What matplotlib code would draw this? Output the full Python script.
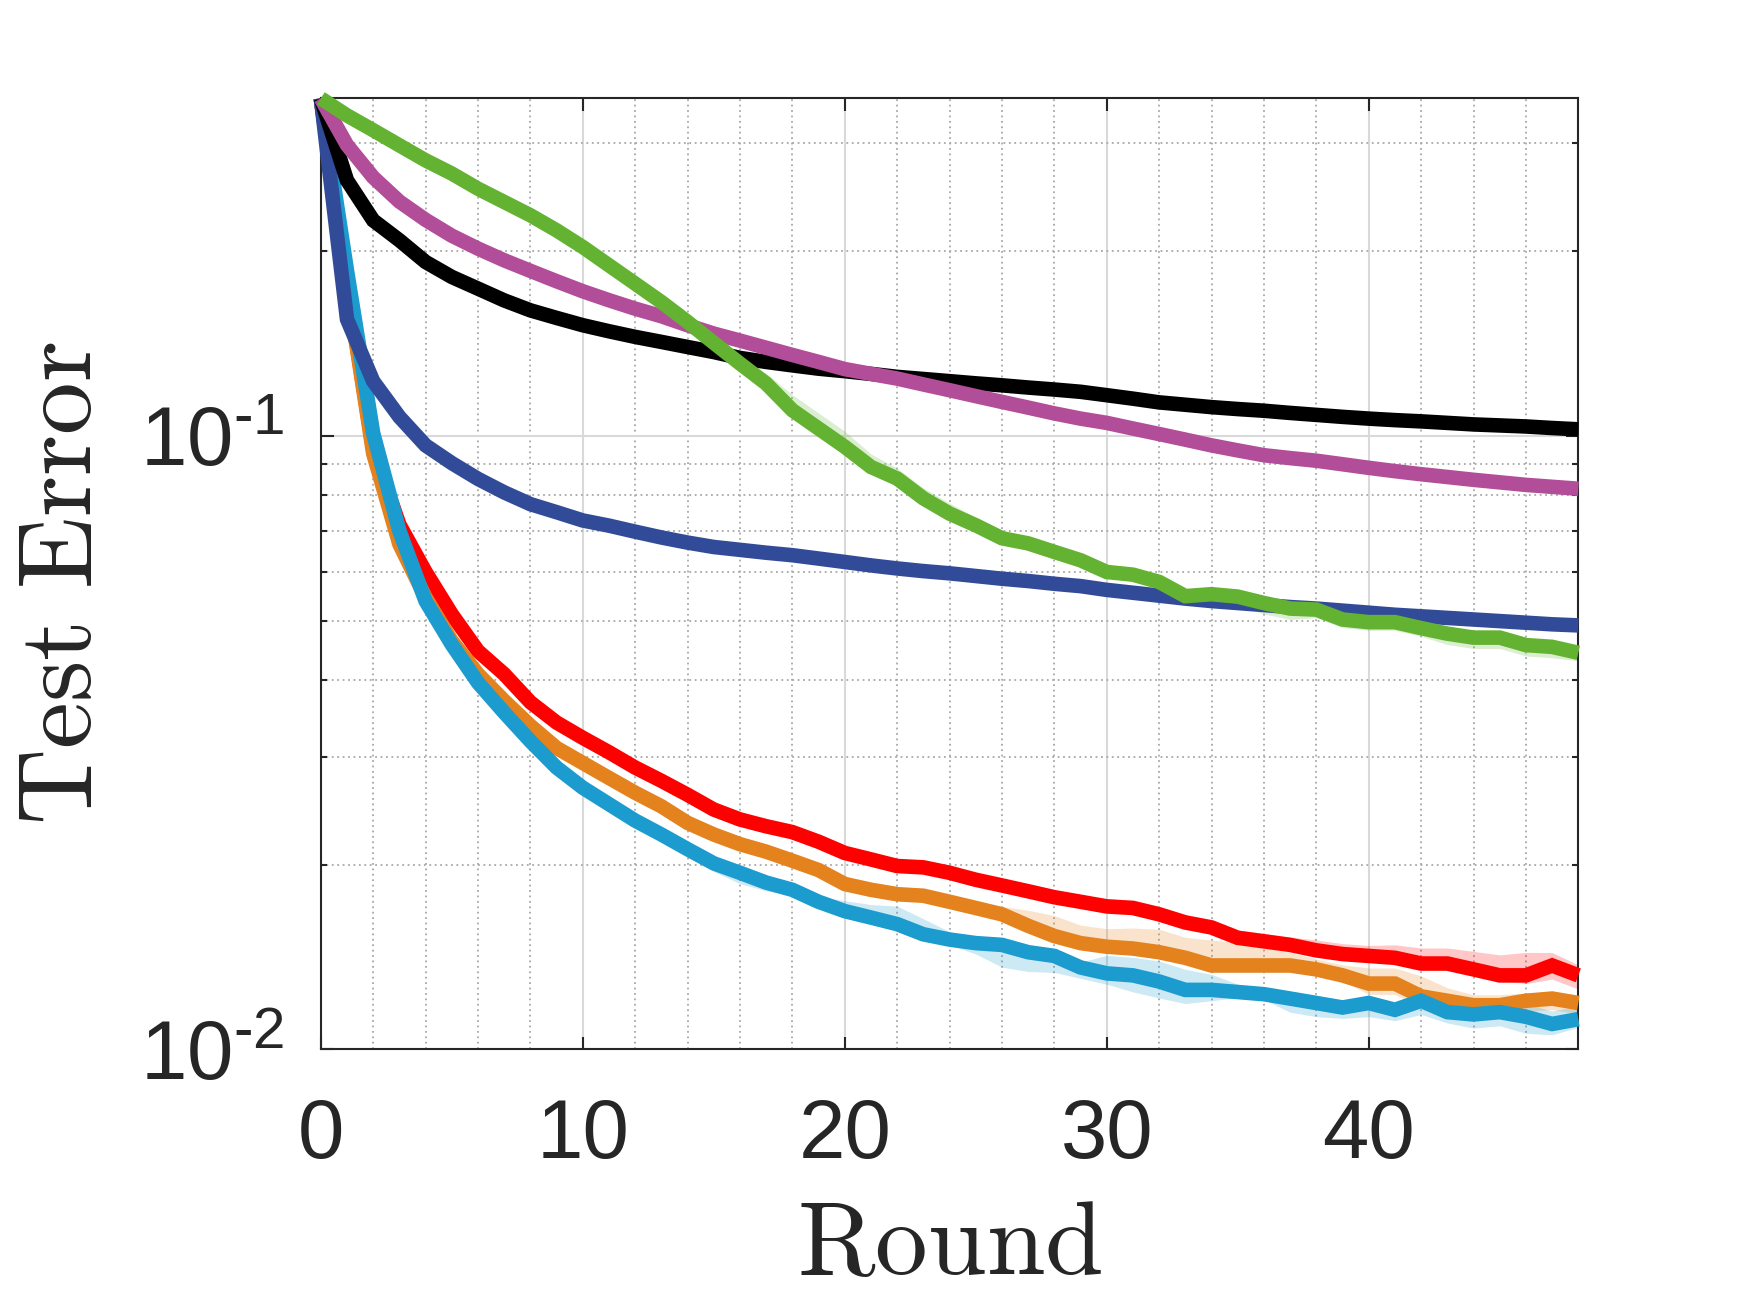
import matplotlib
matplotlib.use("Agg")
import matplotlib.pyplot as plt
from matplotlib.ticker import FixedLocator, NullFormatter, FixedFormatter
import numpy as np

plt.rcParams['mathtext.fontset'] = 'custom'
plt.rcParams['mathtext.rm'] = 'Liberation Sans'
plt.rcParams['mathtext.it'] = 'Liberation Sans:italic'
plt.rcParams['mathtext.bf'] = 'Liberation Sans:bold'

rounds = list(range(49))

# test error per round
err_black = [0.355, 0.261, 0.2246, 0.2084, 0.1921, 0.1816, 0.1738, 0.1663, 0.1602, 0.1557,
             0.1515, 0.1481, 0.1450, 0.1423, 0.1396, 0.1370, 0.1340, 0.1320, 0.1303, 0.1287,
             0.1275, 0.1262, 0.1248, 0.1238, 0.1228, 0.1218, 0.1209, 0.1199, 0.1190, 0.1180,
             0.1165, 0.1150, 0.1134, 0.1124, 0.1114, 0.1106, 0.1099, 0.1090, 0.1082, 0.1074,
             0.1067, 0.1061, 0.1056, 0.1050, 0.1044, 0.1040, 0.1036, 0.1030, 0.1025]
err_magenta = [0.355, 0.298, 0.264, 0.241, 0.225, 0.212, 0.202, 0.1933, 0.1858, 0.1787,
               0.1721, 0.1664, 0.1612, 0.1567, 0.1515, 0.1468, 0.1430, 0.1392, 0.1355, 0.1320,
               0.1285, 0.1262, 0.1240, 0.1213, 0.1187, 0.1161, 0.1136, 0.1112, 0.1088, 0.1067,
               0.1050, 0.1028, 0.1007, 0.0986, 0.0965, 0.0947, 0.0930, 0.0920, 0.0911, 0.0899,
               0.0887, 0.0876, 0.0866, 0.0857, 0.0848, 0.0840, 0.0832, 0.0826, 0.0820]
err_green = [0.355, 0.333, 0.315, 0.2976, 0.2813, 0.2677, 0.2529, 0.2406, 0.2289, 0.2163,
             0.2032, 0.1897, 0.1771, 0.1653, 0.1534, 0.1418, 0.1312, 0.1217, 0.1101, 0.1028,
             0.0960, 0.0890, 0.0852, 0.0791, 0.0747, 0.0715, 0.0681, 0.0668, 0.0647, 0.0627,
             0.0600, 0.0594, 0.0578, 0.0548, 0.0552, 0.0547, 0.0534, 0.0523, 0.0521, 0.0502,
             0.0497, 0.0497, 0.0486, 0.0476, 0.0469, 0.0469, 0.0456, 0.0453, 0.0443]
err_navy = [0.355, 0.155, 0.1228, 0.1074, 0.0965, 0.0903, 0.0851, 0.0809, 0.0774, 0.0751,
            0.0728, 0.0714, 0.0698, 0.0683, 0.0670, 0.0659, 0.0652, 0.0645, 0.0639, 0.0631,
            0.0623, 0.0615, 0.0608, 0.0602, 0.0597, 0.0591, 0.0585, 0.0580, 0.0574, 0.0569,
            0.0561, 0.0555, 0.0549, 0.0543, 0.0538, 0.0534, 0.0530, 0.0526, 0.0523, 0.0519,
            0.0515, 0.0511, 0.0508, 0.0505, 0.0502, 0.0499, 0.0496, 0.0493, 0.0491]
err_red = [0.355, 0.178, 0.095, 0.0717, 0.0600, 0.0512, 0.0446, 0.0409, 0.0368, 0.0341,
           0.0322, 0.0305, 0.0288, 0.0274, 0.0260, 0.0246, 0.0237, 0.0231, 0.0226, 0.0218,
           0.0209, 0.0204, 0.0199, 0.0198, 0.0194, 0.0189, 0.0185, 0.0181, 0.0177, 0.0174,
           0.0171, 0.0170, 0.0166, 0.0161, 0.0158, 0.0152, 0.0150, 0.0148, 0.0145, 0.0143,
           0.0142, 0.0141, 0.0138, 0.0138, 0.0135, 0.0132, 0.0132, 0.0137, 0.0132]
err_orange = [0.355, 0.1765, 0.0936, 0.0666, 0.0545, 0.0463, 0.0409, 0.0370, 0.0337, 0.0310,
              0.0293, 0.0277, 0.0262, 0.0249, 0.0234, 0.0224, 0.0216, 0.0210, 0.0203, 0.0196,
              0.0186, 0.0182, 0.0179, 0.0178, 0.0174, 0.0170, 0.0166, 0.0159, 0.0153, 0.0149,
              0.0147, 0.0146, 0.0144, 0.0141, 0.0137, 0.0137, 0.0137, 0.0137, 0.0135, 0.0132,
              0.0128, 0.0128, 0.0122, 0.0120, 0.0118, 0.0118, 0.0120, 0.0121, 0.0119]
err_cyan = [0.355, 0.186, 0.101, 0.0700, 0.0538, 0.0457, 0.0396, 0.0354, 0.0318, 0.0288,
            0.0267, 0.0251, 0.0236, 0.0224, 0.0212, 0.0201, 0.0194, 0.0187, 0.0182, 0.0174,
            0.0168, 0.0164, 0.0160, 0.0154, 0.0151, 0.0149, 0.0148, 0.0144, 0.0142, 0.0136,
            0.0133, 0.0132, 0.0129, 0.0125, 0.0125, 0.0124, 0.0123, 0.0121, 0.0119, 0.0117,
            0.0119, 0.0116, 0.0120, 0.0115, 0.0114, 0.0115, 0.0113, 0.0110, 0.0112]

# shaded spread around the mean, percent below / above the line
red_lo = [2]*46 + [3, 5, 5]
red_hi = [2]*15 + [3, 3, 3, 3] + [2]*11 + [3]*8 + [4, 4, 4, 5, 6, 6, 7, 8, 9, 5, 4]
orange_lo = [2]*40 + [4]*9
orange_hi = [2]*20 + [3, 3, 3, 2, 2, 2, 3, 6, 8, 7, 7, 8, 9, 8, 10, 9, 7, 5, 4, 4,
                      6, 6, 8, 5, 4, 4, 3, 2, 2]
cyan_lo = [2]*15 + [3, 4, 3] + [2]*7 + [4, 8, 7, 6, 4, 4, 6, 6, 5, 4, 2, 2,
                                       5, 5, 4, 5, 4, 5, 4, 5, 5, 6, 4, 3]
cyan_hi = [2]*20 + [4, 5, 7, 6, 3] + [2]*5 + [7, 7, 8, 8, 6, 3] + [2]*8 + [5]*5
green_lo = [1]*31 + [2, 2, 3, 3, 3, 4, 4, 3, 3, 3, 3, 3, 4, 4, 4, 4, 4, 3]
green_hi = [1]*17 + [4, 6, 6, 6, 5, 4, 4, 4, 3, 3] + [2]*6 + [1]*16

series = [
    (err_red, "#FF0000", red_lo, red_hi),
    (err_orange, "#E4821E", orange_lo, orange_hi),
    (err_cyan, "#1B9BCE", cyan_lo, cyan_hi),
    (err_navy, "#324B98", None, None),
    (err_black, "#000000", None, None),
    (err_magenta, "#B24D99", None, None),
    (err_green, "#64B232", green_lo, green_hi),
]

fig = plt.figure(figsize=(17.5, 13.13), dpi=100)
ax = fig.add_axes([0.1833, 0.2008, 0.7186, 0.7243])
ax.set_yscale("log")

# bands first, then the lines on top
for vals, col, lo, hi in series:
    if lo is None:
        continue
    v = np.array(vals)
    ax.fill_between(rounds, v * (1 - np.array(lo) / 100), v * (1 + np.array(hi) / 100),
                    color=col, alpha=0.22, linewidth=0, zorder=2)

for vals, col, lo, hi in series:
    ax.plot(rounds, vals, color=col, lw=10.5, solid_joinstyle="miter",
            solid_capstyle="butt", zorder=3, clip_on=False)

ax.set_xlim(0, 48)
ax.set_ylim(0.01, 0.355)

ax.xaxis.set_major_locator(FixedLocator([0, 10, 20, 30, 40]))
ax.xaxis.set_minor_locator(FixedLocator(list(range(0, 49, 2))))
ax.yaxis.set_major_locator(FixedLocator([0.01, 0.1]))
ax.yaxis.set_major_formatter(FixedFormatter([r"$10^{\text{-}2}$", r"$10^{\text{-}1}$"]))
ax.yaxis.set_minor_locator(FixedLocator([0.02, 0.03, 0.04, 0.05, 0.06, 0.07, 0.08, 0.09, 0.2, 0.3]))
ax.yaxis.set_minor_formatter(NullFormatter())

ax.grid(True, which="major", color="#D9D9D9", lw=1.5, ls="-", zorder=1)
ax.grid(True, which="minor", color="#A8A8A8", lw=1.3, ls=(0, (1, 2)), zorder=1)
ax.set_axisbelow(True)

ax.tick_params(which="both", direction="in", top=True, right=True, colors="#262626",
               width=1.5)
ax.tick_params(which="major", length=9)
ax.tick_params(which="minor", length=4)
ax.tick_params(axis="x", which="minor", length=0)
ax.tick_params(axis="x", which="major", pad=34, labelsize=60)
ax.tick_params(axis="y", which="major", pad=26, labelsize=60)
for lab in ax.get_xticklabels() + ax.get_yticklabels():
    lab.set_family("Liberation Sans")

for sp in ax.spines.values():
    sp.set_color("#262626")
    sp.set_linewidth(1.5)

ax.set_xlabel(r"$\mathrm{Round}$", fontsize=76, color="#262626", math_fontfamily="cm")
ax.set_ylabel(r"$\mathrm{Test\ Error}$", fontsize=76, color="#262626", math_fontfamily="cm")
ax.xaxis.set_label_coords(0.5, -0.152)
ax.yaxis.set_label_coords(-0.165, 0.49)

fig.savefig("out.png", dpi=100, facecolor="white")
